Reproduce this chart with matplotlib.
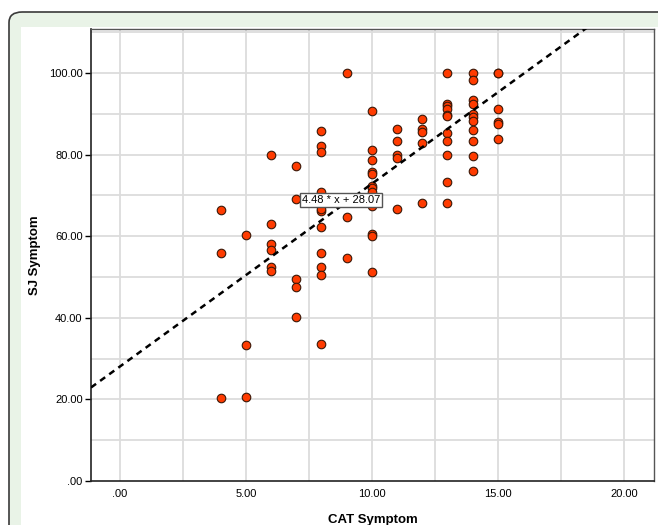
import matplotlib.pyplot as plt
from matplotlib.patches import FancyBboxPatch, Rectangle

# CAT Symptom (x) and SJ Symptom (y), one entry per respondent
cat_symptom = [
    4, 4, 4,
    5, 5, 5,
    6, 6, 6, 6, 6, 6,
    7, 7, 7, 7, 7,
    8, 8, 8, 8, 8, 8, 8, 8, 8, 8, 8,
    9, 9, 9,
    10, 10, 10, 10, 10, 10, 10, 10, 10, 10, 10, 10,
    11, 11, 11, 11, 11,
    12, 12, 12, 12, 12,
    13, 13, 13, 13, 13, 13, 13, 13, 13, 13, 13,
    14, 14, 14, 14, 14, 14, 14, 14, 14, 14, 14,
    15, 15, 15, 15, 15, 15,
]
sj_symptom = [
    66.5, 55.8, 20.4,
    60.3, 33.4, 20.5,
    80.0, 62.9, 58.1, 56.7, 52.4, 51.4,
    77.2, 69.2, 49.6, 47.5, 40.1,
    85.7, 82.2, 80.6, 70.8, 66.1, 66.6, 62.3, 55.9, 52.4, 50.4, 33.5,
    99.9, 64.7, 54.6,
    90.6, 81.1, 78.6, 75.7, 75.3, 72.4, 71.9, 70.8, 67.3, 60.5, 60.0, 51.3,
    86.3, 83.4, 79.9, 79.3, 66.7,
    88.8, 86.4, 85.5, 82.8, 68.1,
    99.9, 92.4, 91.9, 91.2, 89.8, 89.4, 85.2, 83.4, 80.0, 73.4, 68.1,
    99.9, 98.2, 93.5, 92.3, 90.0, 89.2, 88.3, 86.1, 83.4, 79.6, 75.9,
    99.9, 100.0, 91.2, 87.9, 87.6, 83.9,
]
slope, intercept = 4.48, 28.07
fit_label = "4.48 * x + 28.07"

x_ticks = [0, 5, 10, 15, 20]
y_ticks = [0, 20, 40, 60, 80, 100]

plt.rcParams['font.family'] = ['Liberation Sans', 'DejaVu Sans']

W, H = 658, 525
fig = plt.figure(figsize=(W / 100, H / 100), dpi=100)
fig.patch.set_facecolor("white")

# pale green panel with rounded border, and the white area inside it
panel = FancyBboxPatch((9 / W, -0.2), 1.2, 1 - 12 / H + 0.2,
                       boxstyle="round,pad=0,rounding_size=0.02",
                       transform=fig.transFigure, facecolor="#e9f3e7",
                       edgecolor="#3a3a3a", linewidth=1.2, zorder=-2)
fig.patches.append(panel)
fig.patches.append(Rectangle((21 / W, -0.1), 1.2, 1 - 27 / H + 0.1,
                             transform=fig.transFigure, facecolor="white",
                             edgecolor="none", zorder=-1))

ax = fig.add_axes([91 / W, 1 - 481 / H, (654 - 91) / W, (481 - 29) / H])
ax.set_zorder(2)
ax.set_facecolor("white")
ax.set_xlim(-1.15, 21.2)
ax.set_ylim(0, 110.8)

# grid: vertical every 2.5, horizontal every 10
for gx in [i * 2.5 for i in range(0, 9)]:
    ax.axvline(gx, color="#dcdcdc", lw=1.3, zorder=1)
for gy in range(10, 111, 10):
    ax.axhline(gy, color="#dcdcdc", lw=1.3, zorder=1)

ax.scatter(cat_symptom, sj_symptom, s=38, color="#ff3b00",
           edgecolor="#3a1808", linewidth=0.8, zorder=3)

xl = ax.get_xlim()
ax.plot(xl, [slope * v + intercept for v in xl], color="black",
        lw=1.8, ls=(0, (2.5, 2)), zorder=4)
ax.set_xlim(xl)

ax.text(8.76, 68.8, fit_label, fontsize=8, ha="center", va="center",
        zorder=5, bbox=dict(boxstyle="square,pad=0.18", facecolor="white",
                            edgecolor="#555555", linewidth=1))

ax.set_xticks(x_ticks)
ax.set_xticklabels([".00" if v == 0 else f"{v:.2f}" for v in x_ticks])
ax.set_yticks(y_ticks)
ax.set_yticklabels([".00" if v == 0 else f"{v:.2f}" for v in y_ticks])
ax.tick_params(axis="x", length=0, pad=6, labelsize=8)
ax.tick_params(axis="y", length=4, width=1, pad=2, labelsize=8)

for side in ["top", "right"]:
    ax.spines[side].set_color("#555555")
    ax.spines[side].set_linewidth(1)
for side in ["left", "bottom"]:
    ax.spines[side].set_color("#222222")
    ax.spines[side].set_linewidth(1.2)

ax.set_xlabel("CAT Symptom", fontsize=9.5, fontweight="bold", labelpad=10.5)
ax.set_ylabel("SJ Symptom", fontsize=9.5, fontweight="bold", labelpad=6)

fig.savefig("out.png", dpi=100)
